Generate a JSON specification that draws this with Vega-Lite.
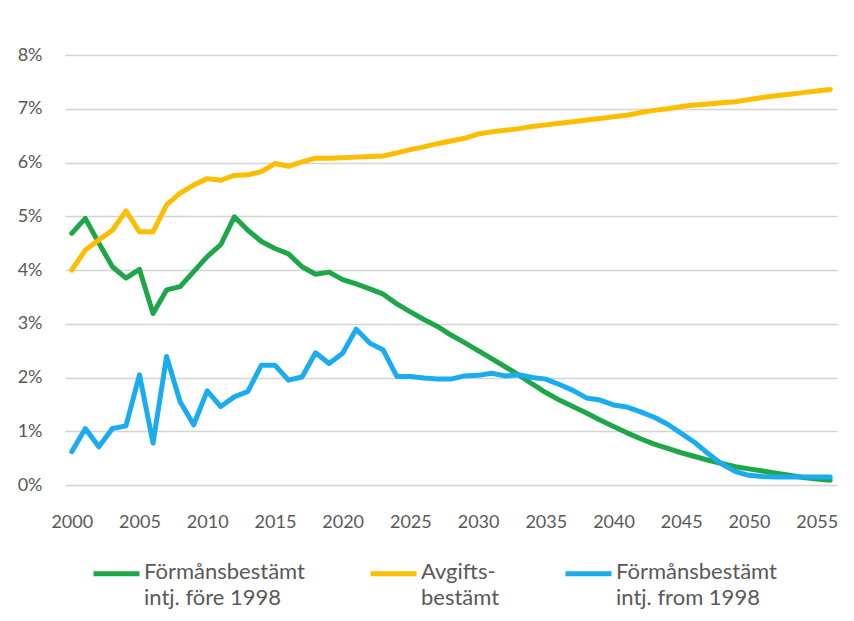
{
  "$schema": "https://vega.github.io/schema/vega-lite/v6.json",
  "autosize": "none",
  "width": 772,
  "height": 430,
  "padding": {"left": 65, "top": 55, "right": 17, "bottom": 136},
  "background": "white",
  "config": {
    "font": "Lato",
    "view": {"stroke": null},
    "axis": {"labelFont": "Lato", "labelColor": "#595959", "labelFontSize": 18, "ticks": false, "domain": false, "title": null}
  },
  "data": {
    "values": [
      {"year": 2000, "fore1998": 4.68, "avgift": 4.00, "from1998": 0.62},
      {"year": 2001, "fore1998": 4.96, "avgift": 4.37, "from1998": 1.05},
      {"year": 2002, "fore1998": 4.50, "avgift": 4.56, "from1998": 0.71},
      {"year": 2003, "fore1998": 4.06, "avgift": 4.74, "from1998": 1.05},
      {"year": 2004, "fore1998": 3.85, "avgift": 5.10, "from1998": 1.10},
      {"year": 2005, "fore1998": 4.01, "avgift": 4.71, "from1998": 2.05},
      {"year": 2006, "fore1998": 3.19, "avgift": 4.71, "from1998": 0.78},
      {"year": 2007, "fore1998": 3.63, "avgift": 5.21, "from1998": 2.39},
      {"year": 2008, "fore1998": 3.69, "avgift": 5.43, "from1998": 1.55},
      {"year": 2009, "fore1998": 3.97, "avgift": 5.58, "from1998": 1.12},
      {"year": 2010, "fore1998": 4.25, "avgift": 5.70, "from1998": 1.75},
      {"year": 2011, "fore1998": 4.47, "avgift": 5.67, "from1998": 1.46},
      {"year": 2012, "fore1998": 4.99, "avgift": 5.76, "from1998": 1.64},
      {"year": 2013, "fore1998": 4.74, "avgift": 5.77, "from1998": 1.74},
      {"year": 2014, "fore1998": 4.53, "avgift": 5.83, "from1998": 2.23},
      {"year": 2015, "fore1998": 4.40, "avgift": 5.98, "from1998": 2.23},
      {"year": 2016, "fore1998": 4.30, "avgift": 5.93, "from1998": 1.95},
      {"year": 2017, "fore1998": 4.06, "avgift": 6.01, "from1998": 2.01},
      {"year": 2018, "fore1998": 3.92, "avgift": 6.08, "from1998": 2.46},
      {"year": 2019, "fore1998": 3.96, "avgift": 6.08, "from1998": 2.26},
      {"year": 2020, "fore1998": 3.82, "avgift": 6.09, "from1998": 2.45},
      {"year": 2021, "fore1998": 3.74, "avgift": 6.10, "from1998": 2.90},
      {"year": 2022, "fore1998": 3.65, "avgift": 6.11, "from1998": 2.64},
      {"year": 2023, "fore1998": 3.55, "avgift": 6.12, "from1998": 2.51},
      {"year": 2024, "fore1998": 3.37, "avgift": 6.18, "from1998": 2.02},
      {"year": 2025, "fore1998": 3.22, "avgift": 6.24, "from1998": 2.02},
      {"year": 2026, "fore1998": 3.08, "avgift": 6.29, "from1998": 1.99},
      {"year": 2027, "fore1998": 2.95, "avgift": 6.35, "from1998": 1.97},
      {"year": 2028, "fore1998": 2.79, "avgift": 6.40, "from1998": 1.97},
      {"year": 2029, "fore1998": 2.65, "avgift": 6.45, "from1998": 2.03},
      {"year": 2030, "fore1998": 2.50, "avgift": 6.53, "from1998": 2.04},
      {"year": 2031, "fore1998": 2.35, "avgift": 6.57, "from1998": 2.08},
      {"year": 2032, "fore1998": 2.20, "avgift": 6.60, "from1998": 2.03},
      {"year": 2033, "fore1998": 2.05, "avgift": 6.63, "from1998": 2.05},
      {"year": 2034, "fore1998": 1.88, "avgift": 6.67, "from1998": 2.00},
      {"year": 2035, "fore1998": 1.72, "avgift": 6.70, "from1998": 1.97},
      {"year": 2036, "fore1998": 1.58, "avgift": 6.73, "from1998": 1.87},
      {"year": 2037, "fore1998": 1.46, "avgift": 6.76, "from1998": 1.76},
      {"year": 2038, "fore1998": 1.34, "avgift": 6.79, "from1998": 1.62},
      {"year": 2039, "fore1998": 1.21, "avgift": 6.82, "from1998": 1.58},
      {"year": 2040, "fore1998": 1.09, "avgift": 6.85, "from1998": 1.49},
      {"year": 2041, "fore1998": 0.97, "avgift": 6.88, "from1998": 1.45},
      {"year": 2042, "fore1998": 0.86, "avgift": 6.93, "from1998": 1.36},
      {"year": 2043, "fore1998": 0.76, "avgift": 6.97, "from1998": 1.26},
      {"year": 2044, "fore1998": 0.68, "avgift": 7.00, "from1998": 1.13},
      {"year": 2045, "fore1998": 0.60, "avgift": 7.04, "from1998": 0.96},
      {"year": 2046, "fore1998": 0.53, "avgift": 7.07, "from1998": 0.79},
      {"year": 2047, "fore1998": 0.46, "avgift": 7.09, "from1998": 0.58},
      {"year": 2048, "fore1998": 0.40, "avgift": 7.11, "from1998": 0.39},
      {"year": 2049, "fore1998": 0.34, "avgift": 7.13, "from1998": 0.25},
      {"year": 2050, "fore1998": 0.30, "avgift": 7.17, "from1998": 0.18},
      {"year": 2051, "fore1998": 0.26, "avgift": 7.21, "from1998": 0.16},
      {"year": 2052, "fore1998": 0.22, "avgift": 7.24, "from1998": 0.15},
      {"year": 2053, "fore1998": 0.18, "avgift": 7.27, "from1998": 0.15},
      {"year": 2054, "fore1998": 0.14, "avgift": 7.30, "from1998": 0.15},
      {"year": 2055, "fore1998": 0.11, "avgift": 7.33, "from1998": 0.15},
      {"year": 2056, "fore1998": 0.09, "avgift": 7.36, "from1998": 0.15}
    ]
  },
  "transform": [
    {"fold": ["fore1998", "avgift", "from1998"], "as": ["series", "value"]}
  ],
  "mark": {"type": "line", "strokeWidth": 5, "strokeJoin": "round", "strokeCap": "round"},
  "encoding": {
    "x": {
      "field": "year",
      "type": "quantitative",
      "scale": {"domain": [1999.5, 2056.5], "nice": false, "zero": false},
      "axis": {"values": [2000, 2005, 2010, 2015, 2020, 2025, 2030, 2035, 2040, 2045, 2050, 2055], "format": "d", "grid": false, "labelPadding": 28}
    },
    "y": {
      "field": "value",
      "type": "quantitative",
      "scale": {"domain": [0, 8], "nice": false},
      "axis": {"values": [0, 1, 2, 3, 4, 5, 6, 7, 8], "labelExpr": "datum.value + '%'", "grid": true, "gridColor": "#d4d4d4", "gridWidth": 1.5, "labelPadding": 23}
    },
    "color": {
      "field": "series",
      "type": "nominal",
      "scale": {"domain": ["fore1998", "avgift", "from1998"], "range": ["#1fa648", "#fdbe00", "#1aacef"]},
      "legend": {
        "orient": "none",
        "legendX": 26,
        "legendY": 493,
        "direction": "horizontal",
        "title": null,
        "symbolType": "stroke",
        "symbolSize": 2116,
        "symbolStrokeWidth": 5,
        "labelFont": "Lato",
        "labelFontSize": 22,
        "labelColor": "#595959",
        "labelLimit": 0,
        "labelOffset": 2,
        "labelBaseline": "top",
        "columnPadding": 55,
        "padding": 0,
        "labelExpr": "datum.label == 'fore1998' ? ['Förmånsbestämt', 'intj. före 1998'] : datum.label == 'avgift' ? ['Avgifts-', 'bestämt'] : ['Förmånsbestämt', 'intj. from 1998']",
        "encoding": {"labels": {"dy": {"value": -12}, "lineHeight": {"value": 26}}}
      }
    }
  }
}
